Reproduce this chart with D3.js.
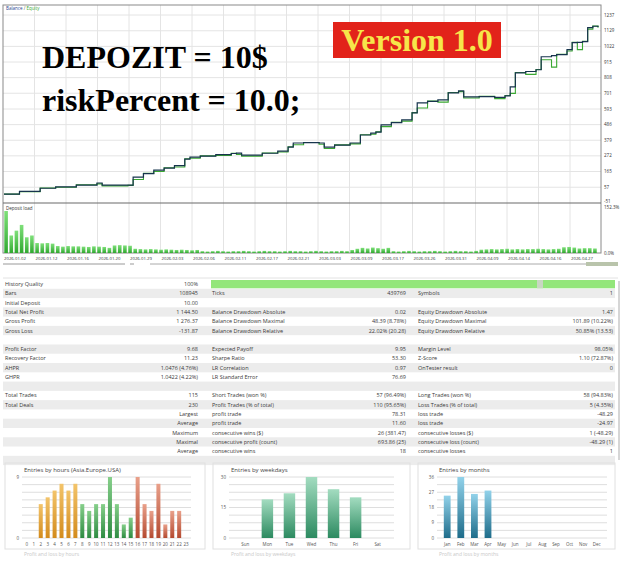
<!DOCTYPE html>
<html>
<head>
<meta charset="utf-8">
<script src="https://cdn.jsdelivr.net/npm/d3@7"></script>
<style>
body { margin: 0; background: #fff; }
text { font-family: "Open Sans", sans-serif; }
</style>
</head>
<body>
<svg id="report"></svg>
<script>
// balance / equity curve (trade number -> $)
var balanceTrades = [0, 3, 7, 10, 14, 18, 19, 24, 25, 27, 29, 31, 33, 35, 36, 38, 41, 44, 45, 46, 50, 53, 55, 56, 58, 61, 62, 64, 67, 69, 71, 72, 73, 75, 77, 79, 80, 82, 84, 86, 88, 89, 92, 95, 97, 98, 99, 101, 103, 104, 106, 107, 109, 110, 111, 112, 113, 114, 115];
var balanceValues = [10, 28, 50, 60, 72, 86, 71, 72, 126, 150, 174, 188, 205, 250, 263, 270, 280, 288, 291, 277, 290, 305, 332, 360, 362, 360, 332, 345, 360, 415, 428, 435, 484, 500, 518, 566, 635, 645, 656, 704, 717, 676, 678, 672, 683, 745, 841, 850, 862, 951, 958, 965, 1000, 1048, 1050, 1055, 1151, 1160, 1154.5];
var equityValues = [10, 26, 52, 57, 74, 80, 66, 70, 110, 152, 165, 190, 196, 252, 256, 272, 274, 290, 282, 270, 292, 298, 334, 348, 364, 352, 322, 347, 354, 417, 420, 437, 472, 502, 510, 568, 600, 647, 640, 706, 712, 668, 680, 664, 685, 700, 843, 830, 864, 930, 880, 967, 990, 1050, 1000, 1057, 1140, 1162, 1150];
var balanceTicks = [57, 165, 272, 379, 486, 593, 701, 808, 915, 1022, 1129, 1237];

var dateLabels = ["2026.01.02", "2026.01.12", "2026.01.16", "2026.01.20", "2026.01.29", "2026.02.03", "2026.02.06", "2026.02.11", "2026.02.17", "2026.02.21", "2026.03.03", "2026.03.09", "2026.03.17", "2026.03.26", "2026.03.31", "2026.04.09", "2026.04.14", "2026.04.16", "2026.04.27"];

// deposit load per trade, %
var depositLoad = [139, 58, 74, 93, 52, 58, 33, 32, 33, 31,
    23, 21, 23, 22, 22, 21, 20, 22, 21, 20,
    17, 25, 26, 25, 24, 14, 13, 12, 13, 12,
    11, 12, 11, 10, 11, 10, 9, 10, 6, 5,
    6, 7, 6, 5, 6, 6, 7, 6, 5, 6,
    7, 6, 6, 5, 6, 7, 6, 6, 5, 6,
    7, 6, 5, 6, 6, 7, 6, 10, 14, 17,
    15, 18, 16, 14, 17, 6, 5, 6, 7, 6,
    5, 6, 6, 7, 6, 5, 6, 7, 6, 6,
    5, 7, 11, 12, 13, 12, 13, 14, 12, 13,
    12, 13, 13, 14, 13, 12, 13, 14, 19, 20,
    18, 15, 16, 16, 15];

// report table
var col1Labels = ["History Quality", "Bars", "Initial Deposit", "Total Net Profit", "Gross Profit", "Gross Loss", "", "Profit Factor", "Recovery Factor", "AHPR", "GHPR", "", "Total Trades", "Total Deals", "", "", "", "", ""];
var col1Values = ["100%", "108945", "10.00", "1 144.50", "1 276.37", "-131.87", "", "9.68", "11.23", "1.0476 (4.76%)", "1.0422 (4.22%)", "", "115", "230", "Largest", "Average", "Maximum", "Maximal", "Average"];
var col2Labels = ["", "Ticks", "", "Balance Drawdown Absolute", "Balance Drawdown Maximal", "Balance Drawdown Relative", "", "Expected Payoff", "Sharpe Ratio", "LR Correlation", "LR Standard Error", "", "Short Trades (won %)", "Profit Trades (% of total)", "profit trade", "profit trade", "consecutive wins ($)", "consecutive profit (count)", "consecutive wins"];
var col2Values = ["", "439769", "", "0.02", "48.39 (8.78%)", "22.02% (20.28)", "", "9.95", "53.30", "0.97", "76.69", "", "57 (96.49%)", "110 (95.65%)", "78.31", "11.60", "26 (381.47)", "693.86 (25)", "18"];
var col3Labels = ["", "Symbols", "", "Equity Drawdown Absolute", "Equity Drawdown Maximal", "Equity Drawdown Relative", "", "Margin Level", "Z-Score", "OnTester result", "", "", "Long Trades (won %)", "Loss Trades (% of total)", "loss trade", "loss trade", "consecutive losses ($)", "consecutive loss (count)", "consecutive losses"];
var col3Values = ["", "1", "", "1.47", "101.89 (10.22%)", "50.85% (13.53)", "", "98.05%", "1.10 (72.87%)", "0", "", "", "58 (94.83%)", "5 (4.35%)", "-48.29", "-24.97", "1 (-48.29)", "-48.29 (1)", "1"];

// entries histograms
var hours = d3.range(24).map(String);
var hourEntries = [0, 0, 5, 6, 7, 8, 7, 8, 5, 4, 5, 5, 9, 5, 2, 3, 9, 5, 4, 8, 2, 4, 4, 0];
var hourTicks = [0, 9];
var weekdays = ["Sun", "Mon", "Tue", "Wed", "Thu", "Fri", "Sat"];
var weekdayEntries = [0, 19, 22, 30, 24, 20, 0];
var weekdayTicks = [0, 15, 30];
var months = ["Jan", "Feb", "Mar", "Apr", "May", "Jun", "Jul", "Aug", "Sep", "Oct", "Nov", "Dec"];
var monthEntries = [25, 36, 26, 28, 0, 0, 0, 0, 0, 0, 0, 0];
var monthTicks = [0, 9, 18, 27, 36];

var svg = d3.select("#report")
    .attr("width", 625)
    .attr("height", 561);

var defs = svg.append("defs");
function grad(id, top, bottom) {
    var g = defs.append("linearGradient").attr("id", id)
        .attr("x1", 0).attr("y1", 0).attr("x2", 0).attr("y2", 1);
    g.append("stop").attr("offset", "0%").attr("stop-color", top);
    g.append("stop").attr("offset", "100%").attr("stop-color", bottom);
}
grad("loadGrad", "#7fe07a", "#2fa82f");
grad("asiaGrad", "#f3c46a", "#d38b1c");
grad("europeGrad", "#86cf8a", "#2e8b42");
grad("usaGrad", "#e9a08a", "#b44a30");
grad("dayGrad", "#a3dcc0", "#2c8a60");
grad("monthGrad", "#92d2ea", "#1e6c8a");

// ---------- balance chart ----------
var x = d3.scaleLinear().domain([0, 115]).range([4, 598]);
var yBal = d3.scaleLinear().domain([-51, 1237]).range([203, 15]);
var dateX = d3.scalePoint().domain(dateLabels).range([3, 570]);

svg.append("g").selectAll("line")
    .data(balanceTicks)
  .enter().append("line")
    .attr("x1", 3).attr("x2", 601)
    .attr("y1", function(d) { return yBal(d); })
    .attr("y2", function(d) { return yBal(d); })
    .attr("stroke", "#e4e4e4");

svg.append("g").selectAll("line")
    .data(dateLabels.slice(1))
  .enter().append("line")
    .attr("x1", function(d) { return dateX(d); })
    .attr("x2", function(d) { return dateX(d); })
    .attr("y1", 5).attr("y2", 253)
    .attr("stroke", "#e4e4e4");

svg.append("rect")
    .attr("x", 3).attr("y", 5).attr("width", 598).attr("height", 248)
    .attr("fill", "none").attr("stroke", "#8a8a8a");
svg.append("line")
    .attr("x1", 3).attr("x2", 601).attr("y1", 203).attr("y2", 203)
    .attr("stroke", "#6a6a6a").attr("stroke-width", 1.2);

svg.append("g").selectAll("text")
    .data(balanceTicks)
  .enter().append("text")
    .attr("x", 604)
    .attr("y", function(d) { return yBal(d) + 1.5; })
    .style("font-size", "4.5px").attr("fill", "#333")
    .text(function(d) { return d; });
svg.append("text").attr("x", 604).attr("y", 202.5)
    .style("font-size", "4.5px").attr("fill", "#333").text("-51");

var legend = svg.append("text").attr("x", 6).attr("y", 10).style("font-size", "4.5px");
legend.append("tspan").attr("fill", "#1f3f8f").text("Balance");
legend.append("tspan").attr("fill", "#555").text(" / ");
legend.append("tspan").attr("fill", "#3aa832").text("Equity");

var balanceLine = d3.line()
    .x(function(d, i) { return x(balanceTrades[i]); })
    .y(function(d) { return yBal(d); })
    .curve(d3.curveStepAfter);

svg.append("path")
    .attr("d", balanceLine(equityValues))
    .attr("fill", "none").attr("stroke", "#3aa832").attr("stroke-width", 1.1);
svg.append("path")
    .attr("d", balanceLine(balanceValues))
    .attr("fill", "none").attr("stroke", "#17344d").attr("stroke-width", 1.2);

// overlay captions
svg.append("text").attr("x", 42).attr("y", 68)
    .style("font-family", "'Liberation Serif', serif").style("font-weight", "bold").style("font-size", "32px")
    .attr("fill", "#000").text("DEPOZIT = 10$");
svg.append("text").attr("x", 42).attr("y", 111)
    .style("font-family", "'Liberation Serif', serif").style("font-weight", "bold").style("font-size", "32px")
    .attr("fill", "#000").text("riskPercent = 10.0;");
svg.append("rect").attr("x", 333).attr("y", 22).attr("width", 168).attr("height", 36).attr("fill", "#e2231a");
svg.append("text").attr("x", 417).attr("y", 51).attr("text-anchor", "middle")
    .style("font-family", "'Liberation Serif', serif").style("font-weight", "bold").style("font-size", "32px")
    .attr("fill", "#f6e64a").text("Version 1.0");

// ---------- deposit load ----------
var yLoad = d3.scaleLinear().domain([0, 152.3]).range([253, 207]);

svg.append("g").selectAll("rect")
    .data(depositLoad)
  .enter().append("rect")
    .attr("x", function(d, i) { return x(i) + 0.3; })
    .attr("width", 3.6)
    .attr("y", function(d) { return yLoad(d); })
    .attr("height", function(d) { return 253 - yLoad(d); })
    .attr("fill", "url(#loadGrad)");

svg.append("text").attr("x", 6).attr("y", 210).style("font-size", "4.5px").attr("fill", "#333").text("Deposit load");
svg.append("text").attr("x", 604).attr("y", 209).style("font-size", "4.5px").attr("fill", "#333").text("152.3%");
svg.append("text").attr("x", 604).attr("y", 255).style("font-size", "4.5px").attr("fill", "#333").text("0.0%");

svg.append("g").selectAll("text")
    .data(dateLabels)
  .enter().append("text")
    .attr("x", function(d) { return dateX(d) + 1; })
    .attr("y", 260)
    .style("font-size", "4.3px").attr("fill", "#333")
    .text(function(d) { return d; });

// scroll bar remains
svg.append("line").attr("x1", 3).attr("x2", 125).attr("y1", 264).attr("y2", 264).attr("stroke", "#999");
svg.append("line").attr("x1", 130).attr("x2", 134).attr("y1", 264).attr("y2", 264).attr("stroke", "#999");
svg.append("line").attr("x1", 150).attr("x2", 586).attr("y1", 264).attr("y2", 264).attr("stroke", "#aaa");
svg.append("rect").attr("x", 586).attr("y", 262).attr("width", 32).attr("height", 4).attr("fill", "#b9c4ab");

// ---------- report table ----------
var rowH = 9.28;
function rowTop(i) { return 279.5 + i * rowH; }

svg.append("line").attr("x1", 3).attr("x2", 618).attr("y1", 278).attr("y2", 278).attr("stroke", "#e2e2e2");

svg.append("g").selectAll("rect")
    .data(d3.range(20).filter(function(i) { return i % 2 == 1; }))
  .enter().append("rect")
    .attr("x", 3).attr("width", 612)
    .attr("y", function(i) { return rowTop(i); })
    .attr("height", rowH)
    .attr("fill", "#ececec");

svg.append("rect").attr("x", 211).attr("y", rowTop(0) + 0.5).attr("width", 404).attr("height", rowH - 1).attr("fill", "#93e67a");
svg.append("rect").attr("x", 537).attr("y", rowTop(0) + 0.5).attr("width", 6).attr("height", rowH - 1).attr("fill", "#c9d6c2");
svg.append("line").attr("x1", 619).attr("x2", 619).attr("y1", 281).attr("y2", 460).attr("stroke", "#c8c8c8").attr("stroke-width", 1.5);

function column(labels, xPos, anchor) {
    svg.append("g").selectAll("text")
        .data(labels)
      .enter().append("text")
        .attr("x", xPos)
        .attr("y", function(d, i) { return rowTop(i) + 6.6; })
        .attr("text-anchor", anchor)
        .style("font-size", "5.5px")
        .attr("fill", "#3a3a3a")
        .text(function(d) { return d; });
}
column(col1Labels, 5, "start");
column(col1Values, 198, "end");
column(col2Labels, 212, "start");
column(col2Values, 406, "end");
column(col3Labels, 418, "start");
column(col3Values, 613, "end");

// ---------- entries histograms ----------
function histogram(opt) {
    var g = svg.append("g");
    g.append("rect").attr("x", opt.frame[0]).attr("y", 463).attr("width", opt.frame[1] - opt.frame[0]).attr("height", 86)
        .attr("fill", "none").attr("stroke", "#e0e0e0");

    var bx = d3.scaleBand().domain(opt.cats).range(opt.range).padding(opt.pad);
    var by = d3.scaleLinear().domain([0, opt.max]).range([538, 477]);

    g.selectAll(".grid")
        .data(d3.range(9))
      .enter().append("line")
        .attr("x1", opt.range[0]).attr("x2", opt.range[1])
        .attr("y1", function(i) { return by(opt.max * i / 8); })
        .attr("y2", function(i) { return by(opt.max * i / 8); })
        .attr("stroke", "#dedede");

    g.selectAll(".bar")
        .data(opt.values)
      .enter().append("rect")
        .attr("x", function(d, i) { return bx(opt.cats[i]); })
        .attr("width", bx.bandwidth())
        .attr("y", function(d) { return by(d); })
        .attr("height", function(d) { return 538 - by(d); })
        .attr("fill", function(d, i) { return opt.fill(i); });

    g.selectAll(".ylab")
        .data(opt.ticks)
      .enter().append("text")
        .attr("x", opt.range[0] - 3)
        .attr("y", function(d) { return by(d) + 1.5; })
        .attr("text-anchor", "end")
        .style("font-size", "4.5px").attr("fill", "#555")
        .text(function(d) { return d; });

    g.selectAll(".xlab")
        .data(opt.cats)
      .enter().append("text")
        .attr("x", function(d) { return bx(d) + bx.bandwidth() / 2; })
        .attr("y", 546)
        .attr("text-anchor", "middle")
        .style("font-size", "4.5px").attr("fill", "#555")
        .text(function(d) { return d; });

    g.append("text").attr("x", opt.range[0] + 2).attr("y", 472)
        .style("font-size", "6px").attr("fill", "#444").text(opt.title);
    g.append("text").attr("x", opt.range[0] + 2).attr("y", 556)
        .style("font-size", "5px").attr("fill", "#c8c8c8").text(opt.next);
}

histogram({
    cats: hours, values: hourEntries, ticks: hourTicks, max: 9,
    range: [22, 191], pad: 0.42, frame: [5, 205],
    title: "Entries by hours (Asia.Europe.USA)", next: "Profit and loss by hours",
    fill: function(i) { return i < 8 ? "url(#asiaGrad)" : (i < 16 ? "url(#europeGrad)" : "url(#usaGrad)"); }
});
histogram({
    cats: weekdays, values: weekdayEntries, ticks: weekdayTicks, max: 30,
    range: [229, 394], pad: 0.48, frame: [213, 410],
    title: "Entries by weekdays", next: "Profit and loss by weekdays",
    fill: function() { return "url(#dayGrad)"; }
});
histogram({
    cats: months, values: monthEntries, ticks: monthTicks, max: 36,
    range: [437, 607], pad: 0.5, frame: [418, 615],
    title: "Entries by months", next: "Profit and loss by months",
    fill: function() { return "url(#monthGrad)"; }
});
</script>
</body>
</html>
